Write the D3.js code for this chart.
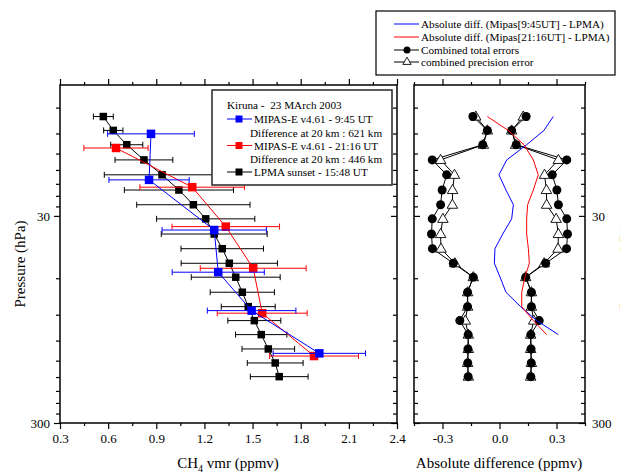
<!DOCTYPE html>
<html>
<head>
<meta charset="utf-8">
<script src="https://cdn.jsdelivr.net/npm/d3@7"></script>
<style>
  body { margin: 0; background: #fff; }
  svg { display: block; }
  svg text { font-family: "Liberation Serif", "Times New Roman", serif; }
</style>
</head>
<body>
<div id="chart"></div>
<script>
// --- data ---
// LPMA levels (hPa) and profile
const lpmaPressure = [9.94, 11.6, 13.6, 16.1, 19.0, 22.5, 26.5, 31.0, 36.7, 43.2, 50.8, 59.3, 70.1, 82.3, 96.1, 112.3, 131.7, 153.9, 179.2];
const lpmaVmr = [0.570, 0.632, 0.716, 0.823, 0.936, 1.041, 1.131, 1.208, 1.261, 1.311, 1.355, 1.395, 1.436, 1.473, 1.511, 1.554, 1.598, 1.641, 1.666];
const lpmaErr = [0.062, 0.060, 0.100, 0.180, 0.360, 0.340, 0.353, 0.306, 0.330, 0.257, 0.300, 0.277, 0.200, 0.168, 0.165, 0.160, 0.164, 0.174, 0.180];

// MIPAS-E 9:45 UT
const mipasAmPressure = [12.05, 20.1, 35.1, 56.1, 86.0, 138.3];
const mipasAmVmr = [0.867, 0.855, 1.261, 1.286, 1.494, 1.916];
const mipasAmErr = [0.270, 0.250, 0.325, 0.287, 0.276, 0.288];

// MIPAS-E 21:16 UT
const mipasPmPressure = [14.1, 21.8, 33.8, 53.7, 88.5, 142.5];
const mipasPmVmr = [0.649, 1.124, 1.333, 1.504, 1.560, 1.883];
const mipasPmErr = [0.200, 0.326, 0.335, 0.330, 0.280, 0.277];

// right panel: differences on the first 16 LPMA levels, errors on all 19
const diffAm = [0.283, 0.234, 0.143, 0.038, -0.003, 0.034, 0.073, 0.064, 0.017, -0.024, -0.027, 0.003, 0.034, 0.111, 0.196, 0.310];
const diffPm = [-0.064, 0.046, 0.129, 0.178, 0.204, 0.178, 0.148, 0.143, 0.143, 0.152, 0.157, 0.134, 0.117, 0.117, 0.178, 0.248];
const totalErr = [0.140, 0.064, 0.088, 0.354, 0.278, 0.302, 0.310, 0.354, 0.358, 0.353, 0.243, 0.138, 0.168, 0.168, 0.209, 0.165, 0.166, 0.167, 0.165];
const precErr = [0.125, 0.064, 0.085, 0.310, 0.237, 0.247, 0.248, 0.298, 0.310, 0.308, 0.235, 0.138, 0.168, 0.168, 0.180, 0.164, 0.164, 0.168, 0.164];

// ticks
const xMajorLeft = [0.3, 0.6, 0.9, 1.2, 1.5, 1.8, 2.1, 2.4];
const xMinorLeft = [0.45, 0.75, 1.05, 1.35, 1.65, 1.95, 2.25];
const xMajorRight = [-0.3, 0, 0.3];
const xMinorRight = [-0.45, -0.15, 0.15, 0.45];
const yMajor = [30, 300];
const yMinor = [9, 12, 15, 18, 21, 24, 27, 60, 90, 120, 150, 180, 210, 240, 270];

// legend texts
const legendLeft = [
  "Kiruna -  23 MArch 2003",
  "MIPAS-E v4.61 - 9:45 UT",
  "Difference at 20 km : 621 km",
  "MIPAS-E v4.61 - 21:16 UT",
  "Difference at 20 km : 446 km",
  "LPMA sunset - 15:48 UT"
];
const legendRight = [
  "Absolute diff. (Mipas[9:45UT] - LPMA)",
  "Absolute diff. (Mipas[21:16UT] - LPMA)",
  "Combined total errors",
  "combined precision error"
];

const W = 620, H = 473;
const BLUE = "#0000ff", RED = "#ff0000";
const FONT = "Liberation Serif, Times New Roman, serif";

const svg = d3.select("#chart").append("svg").attr("width", W).attr("height", H);

// --- scales ---
const xL = d3.scaleLinear().domain([0.3, 2.4]).range([60, 397]);
const xR = d3.scaleLinear().domain([-0.45, 0.45]).range([414, 585]);
const y = d3.scaleLog().domain([7, 300]).range([85, 423]);

const fmt = (d) => d3.format(".1f")(d).replace("\u2212", "-");

// --- axes helper ---
function styleAxis(g) {
  g.attr("font-family", FONT);
  g.select(".domain").remove();
  g.selectAll("line").attr("stroke", "#000").attr("stroke-width", 1.2);
  g.selectAll("text").attr("fill", "#000").attr("font-size", 13);
}

function drawAxes(xs, yLabelSide) {
  const [x0, x1] = xs.range();
  const [y0, y1] = [85, 423];
  const major = xs === xL ? xMajorLeft : xMajorRight;
  const minor = xs === xL ? xMinorLeft : xMinorRight;
  // bottom
  svg.append("g").attr("transform", `translate(0,${y1})`)
    .call(d3.axisBottom(xs).tickValues(major).tickSize(6).tickPadding(5).tickFormat(fmt))
    .call(styleAxis);
  svg.append("g").attr("transform", `translate(0,${y1})`)
    .call(d3.axisBottom(xs).tickValues(minor).tickSize(3).tickFormat(""))
    .call(styleAxis);
  // top
  svg.append("g").attr("transform", `translate(0,${y0})`)
    .call(d3.axisTop(xs).tickValues(major).tickSize(6).tickFormat(""))
    .call(styleAxis);
  svg.append("g").attr("transform", `translate(0,${y0})`)
    .call(d3.axisTop(xs).tickValues(minor).tickSize(3).tickFormat(""))
    .call(styleAxis);

  if (yLabelSide === "left") {
    svg.append("g").attr("transform", `translate(${x0},0)`)
      .call(d3.axisLeft(y).tickValues(yMajor).tickSize(6).tickPadding(4).tickFormat(d3.format("d")))
      .call(styleAxis);
    svg.append("g").attr("transform", `translate(${x0},0)`)
      .call(d3.axisLeft(y).tickValues(yMinor).tickSize(4).tickFormat(""))
      .call(styleAxis);
  } else {
    svg.append("g").attr("transform", `translate(${x0},0)`)
      .call(d3.axisRight(y).tickValues(yMajor).tickSize(6).tickFormat(""))
      .call(styleAxis);
    svg.append("g").attr("transform", `translate(${x0},0)`)
      .call(d3.axisRight(y).tickValues(yMinor).tickSize(4).tickFormat(""))
      .call(styleAxis);
    svg.append("g").attr("transform", `translate(${x1},0)`)
      .call(d3.axisRight(y).tickValues(yMajor).tickSize(0).tickPadding(7).tickFormat(d3.format("d")))
      .call(styleAxis);
  }
  svg.append("g").attr("transform", `translate(${x1},0)`)
    .call(d3.axisLeft(y).tickValues(yMajor).tickSize(6).tickFormat(""))
    .call(styleAxis);
  svg.append("g").attr("transform", `translate(${x1},0)`)
    .call(d3.axisLeft(y).tickValues(yMinor).tickSize(4).tickFormat(""))
    .call(styleAxis);

  svg.append("rect")
    .attr("x", x0).attr("y", y0).attr("width", x1 - x0).attr("height", y1 - y0)
    .attr("fill", "none").attr("stroke", "#000").attr("stroke-width", 1.5);
}

// --- left panel: profiles ---
const left = svg.append("g");

function profile(ps, vs, es, color, sq) {
  const g = left.append("g");
  const idx = d3.range(ps.length);
  g.selectAll(".eb").data(idx).join("line")
    .attr("x1", (i) => xL(vs[i] - es[i])).attr("x2", (i) => xL(vs[i] + es[i]))
    .attr("y1", (i) => y(ps[i])).attr("y2", (i) => y(ps[i]))
    .attr("stroke", color).attr("stroke-width", 1);
  [-1, 1].forEach((s) => {
    g.selectAll(null).data(idx).join("line")
      .attr("x1", (i) => xL(vs[i] + s * es[i])).attr("x2", (i) => xL(vs[i] + s * es[i]))
      .attr("y1", (i) => y(ps[i]) - 3).attr("y2", (i) => y(ps[i]) + 3)
      .attr("stroke", color).attr("stroke-width", 1);
  });
  g.append("path")
    .datum(idx)
    .attr("d", d3.line().x((i) => xL(vs[i])).y((i) => y(ps[i])))
    .attr("fill", "none").attr("stroke", color).attr("stroke-width", 1);
  g.selectAll("rect").data(idx).join("rect")
    .attr("x", (i) => xL(vs[i]) - sq / 2).attr("y", (i) => y(ps[i]) - sq / 2)
    .attr("width", sq).attr("height", sq).attr("fill", color);
}

profile(lpmaPressure, lpmaVmr, lpmaErr, "#000", 7.5);
profile(mipasPmPressure, mipasPmVmr, mipasPmErr, RED, 8.5);
profile(mipasAmPressure, mipasAmVmr, mipasAmErr, BLUE, 8.5);

// --- right panel: differences & errors ---
const right = svg.append("g");
const idxAll = d3.range(lpmaPressure.length);
const lineR = (vals, sign) => d3.line().x((i) => xR(sign * vals[i])).y((i) => y(lpmaPressure[i]));

[-1, 1].forEach((s) => {
  right.append("path").datum(idxAll).attr("d", lineR(precErr, s))
    .attr("fill", "none").attr("stroke", "#000").attr("stroke-width", 1);
  right.append("path").datum(idxAll).attr("d", lineR(totalErr, s))
    .attr("fill", "none").attr("stroke", "#000").attr("stroke-width", 1);
});
// triangles first, filled circles drawn over them
[-1, 1].forEach((s) => {
  right.selectAll(null).data(idxAll).join("path")
    .attr("d", d3.symbol(d3.symbolTriangle).size(48))
    .attr("transform", (i) => `translate(${xR(s * precErr[i])},${y(lpmaPressure[i]) + 0.5})`)
    .attr("fill", "#fff").attr("stroke", "#000").attr("stroke-width", 0.9);
});
[-1, 1].forEach((s) => {
  right.selectAll(null).data(idxAll).join("circle")
    .attr("cx", (i) => xR(s * totalErr[i])).attr("cy", (i) => y(lpmaPressure[i]))
    .attr("r", 4.5).attr("fill", "#000");
});
right.append("path").datum(d3.range(diffAm.length)).attr("d", lineR(diffAm, 1))
  .attr("fill", "none").attr("stroke", BLUE).attr("stroke-width", 1);
right.append("path").datum(d3.range(diffPm.length)).attr("d", lineR(diffPm, 1))
  .attr("fill", "none").attr("stroke", RED).attr("stroke-width", 1);

drawAxes(xL, "left");
drawAxes(xR, "right");

// --- left legend box (on top of the error bars) ---
const lg = svg.append("g");
lg.append("rect").attr("x", 212).attr("y", 90).attr("width", 180).attr("height", 95)
  .attr("fill", "#fff").attr("stroke", "#333").attr("stroke-width", 1.6);
const legRows = [105, 119, 132.5, 145.5, 159, 172];
const legColors = [null, BLUE, null, RED, null, "#000"];
legendLeft.forEach((t, i) => {
  const c = legColors[i];
  let tx = i === 0 ? 227 : 250;
  if (c) {
    lg.append("line").attr("x1", 227).attr("x2", 252).attr("y1", legRows[i]).attr("y2", legRows[i])
      .attr("stroke", c).attr("stroke-width", 1);
    lg.append("rect").attr("x", 235.5).attr("y", legRows[i] - 3.5).attr("width", 7).attr("height", 7).attr("fill", c);
    tx = 254;
  }
  lg.append("text").attr("x", tx).attr("y", legRows[i] + 4)
    .attr("font-size", 11.2).attr("style", "white-space: pre").text(t);
});

// --- axis titles ---
const t1 = svg.append("text").attr("x", 228).attr("y", 468).attr("text-anchor", "middle").attr("font-size", 15);
t1.append("tspan").text("CH");
t1.append("tspan").attr("font-size", 10).attr("dy", 4).text("4");
t1.append("tspan").attr("dy", -4).text(" vmr (ppmv)");
svg.append("text").attr("x", 499).attr("y", 468).attr("text-anchor", "middle").attr("font-size", 15)
  .text("Absolute difference (ppmv)");
svg.append("text").attr("transform", "translate(25,264) rotate(-90)").attr("text-anchor", "middle")
  .attr("font-size", 15).text("Pressure (hPa)");
svg.append("text").attr("transform", "translate(630,266) rotate(-90)").attr("text-anchor", "middle")
  .attr("font-size", 15).text("Pressure (hPa)");

// --- top-right legend ---
const rg = svg.append("g");
rg.append("rect").attr("x", 376).attr("y", 11).attr("width", 239).attr("height", 64)
  .attr("fill", "#fff").attr("stroke", "#000").attr("stroke-width", 1.2);
const rRows = [24, 37, 50, 62];
const rColors = [BLUE, RED, "#000", "#000"];
legendRight.forEach((t, i) => {
  rg.append("line").attr("x1", 394).attr("x2", 419).attr("y1", rRows[i]).attr("y2", rRows[i])
    .attr("stroke", rColors[i]).attr("stroke-width", 1);
  if (i === 2) rg.append("circle").attr("cx", 407).attr("cy", rRows[i]).attr("r", 3.5).attr("fill", "#000");
  if (i === 3) rg.append("path").attr("d", d3.symbol(d3.symbolTriangle).size(30))
    .attr("transform", `translate(407,${rRows[i]})`).attr("fill", "#fff").attr("stroke", "#000").attr("stroke-width", 0.9);
  rg.append("text").attr("x", 421).attr("y", rRows[i] + 3.5).attr("font-size", 11.2).text(t);
});
</script>
</body>
</html>
